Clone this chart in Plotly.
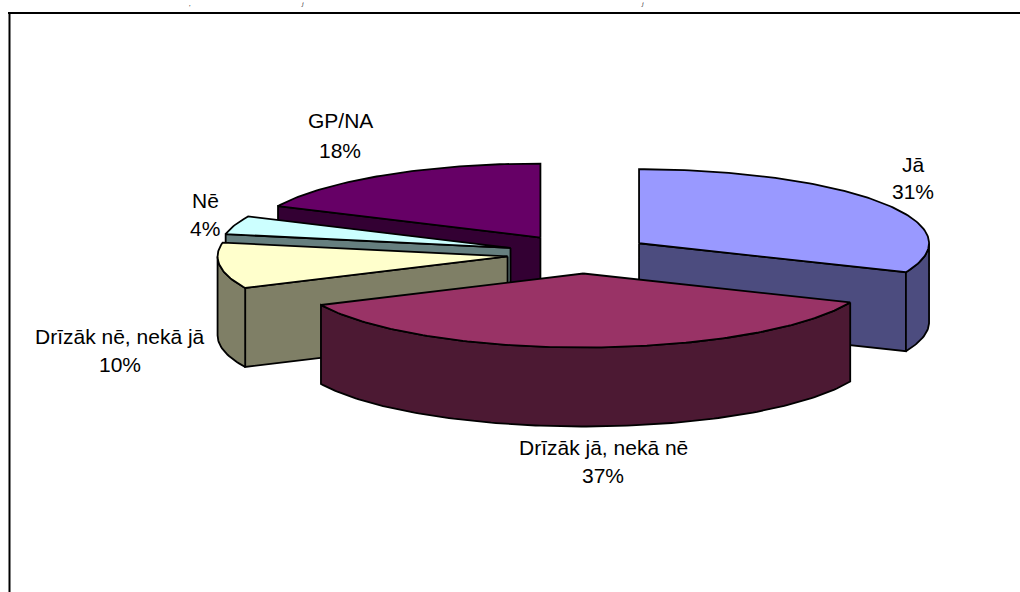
import math
import plotly.graph_objects as go

categories = ["Jā", "Drīzāk jā, nekā nē", "Drīzāk nē, nekā jā", "Nē", "GP/NA"]
values = [31.4, 36.6, 10.0, 4.0, 18.0]
colors = ["#9999FF", "#993366", "#FFFFCC", "#CCFFFF", "#660066"]
draw_order = [4, 3, 0, 2, 1]
top_fragments = [",", "j", "j"]

W, H = 1020, 592
CX, CY = 579, 254
RX, RY = 290, 74
EX, EY = 72, 19.5
DEPTH = 79
FONT = "Liberation Sans, Arial, sans-serif"
apex_nudge = {1: 3}

label_pos = {
    0: (913, 164, 191),
    1: (603, 447, 475),
    2: (120, 336, 364),
    3: (205, 200, 228),
    4: (340, 120, 150),
}
fragment_x = [190, 302, 642]


def shade(hex_color):
    r, g, b = (int(hex_color[i:i + 2], 16) for i in (1, 3, 5))
    return f"rgb({r // 2},{g // 2},{b // 2})"


def arc(ax, ay, a0, a1, dy=0.0):
    n = max(2, int(abs(a1 - a0) / 1.0))
    pts = []
    for i in range(n + 1):
        t = math.radians(a0 + (a1 - a0) * i / n)
        pts.append((ax + RX * math.sin(t), ay - RY * math.cos(t) + dy))
    return pts


def poly(fig, pts, fill, name):
    xs = [p[0] for p in pts] + [pts[0][0]]
    ys = [p[1] for p in pts] + [pts[0][1]]
    fig.add_trace(go.Scatter(
        x=xs, y=ys, mode="lines", fill="toself", fillcolor=fill,
        line=dict(color="#000000", width=1.8), name=name,
        hoverinfo="name", showlegend=False,
    ))


total = sum(values)
angles = []
acc = 0.0
for v in values:
    start = acc
    acc += v / total * 360
    angles.append((start, acc))

fig = go.Figure()

for i in draw_order:
    a0, a1 = angles[i]
    mid = math.radians((a0 + a1) / 2)
    ax = CX + EX * math.sin(mid) + apex_nudge.get(i, 0)
    ay = CY - EY * math.cos(mid)
    side = shade(colors[i])
    name = categories[i]
    # front-facing radial walls
    for ang, facing in ((a0, math.sin(math.radians(a0)) < -1e-6),
                        (a1, math.sin(math.radians(a1)) > 1e-6)):
        if facing:
            p = arc(ax, ay, ang, ang)[0]
            poly(fig, [(ax, ay), p, (p[0], p[1] + DEPTH), (ax, ay + DEPTH)], side, name)
    # front part of the outer rim
    r0, r1 = max(a0, 90), min(a1, 270)
    if r1 > r0:
        upper = arc(ax, ay, r0, r1)
        lower = arc(ax, ay, r0, r1, DEPTH)
        poly(fig, upper + lower[::-1], side, name)
    # top face
    poly(fig, [(ax, ay)] + arc(ax, ay, a0, a1), colors[i], name)

annotations = []
for i, (x, y1, y2) in label_pos.items():
    for text, y in ((categories[i], y1), (f"{round(values[i])}%", y2)):
        annotations.append(dict(
            x=x, y=y, text=text, showarrow=False, xanchor="center", yanchor="middle",
            font=dict(family=FONT, size=21, color="#000000"),
        ))
for x, glyph in zip(fragment_x, top_fragments):
    annotations.append(dict(
        x=x, y=0, text=f"<i>{glyph}</i>", showarrow=False, xanchor="center", yanchor="top",
        font=dict(family="Liberation Serif, Times New Roman, serif", size=6, color="#000000"),
        borderpad=0,
    ))

fig.update_layout(
    width=W, height=H, margin=dict(l=0, r=0, t=0, b=0, pad=0),
    paper_bgcolor="#FFFFFF", plot_bgcolor="#FFFFFF", showlegend=False,
    xaxis=dict(range=[0, W], visible=False, fixedrange=True),
    yaxis=dict(range=[H, 0], visible=False, fixedrange=True),
    annotations=annotations,
    shapes=[
        dict(type="line", xref="x", yref="y", x0=8, x1=W, y0=13, y1=13,
             line=dict(color="#000000", width=2)),
        dict(type="line", xref="x", yref="y", x0=9.5, x1=9.5, y0=13, y1=H,
             line=dict(color="#000000", width=2)),
    ],
)

fig.write_html(
    "out.html",
    config={"displayModeBar": False},
    post_script="document.body.style.margin='0';document.documentElement.style.overflow='hidden';",
)
